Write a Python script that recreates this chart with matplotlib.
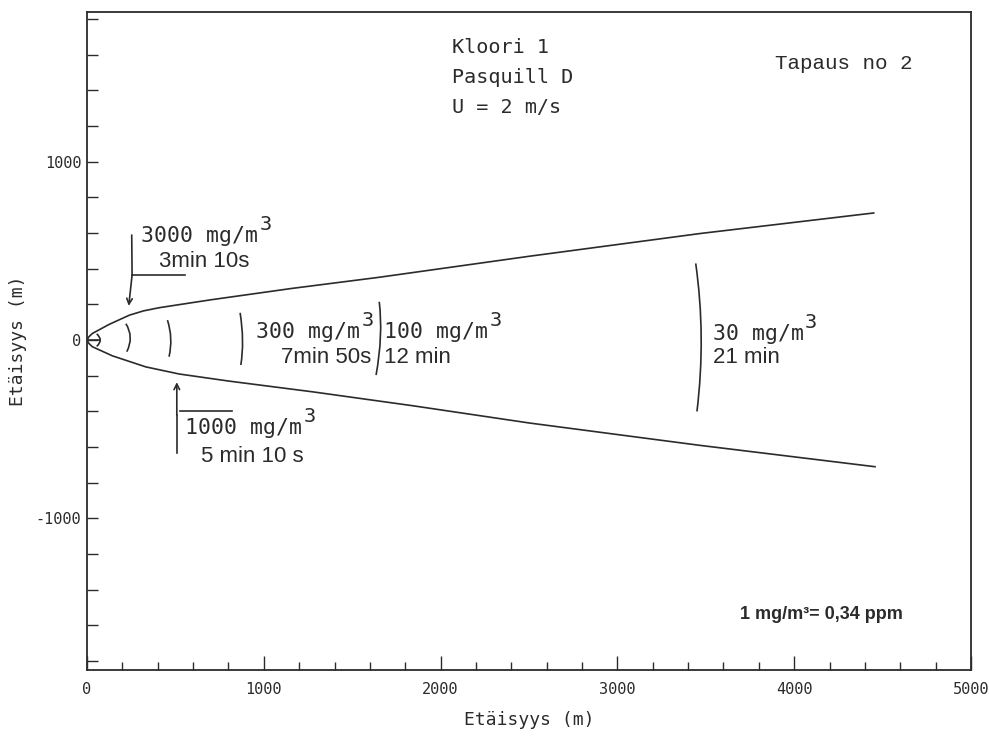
import matplotlib
matplotlib.use("Agg")
import matplotlib.pyplot as plt
from matplotlib.path import Path
from matplotlib.patches import PathPatch
import numpy as np

# ---- data ----
upper_x = [0, 10, 30, 125, 240, 320, 410, 700, 1160, 1650, 2500, 3470, 4450]
upper_y = [0, 18, 37, 88, 140, 164, 182, 226, 290, 352, 470, 598, 713]
lower_x = [0, 10, 30, 143, 332, 521, 804, 1276, 1842, 2503, 3465, 4457]
lower_y = [0, -18, -37, -88, -150, -190, -230, -290, -368, -465, -590, -710]

# iso-concentration arcs: (top, middle, bottom) points
arc_x = [[55, 75, 55], [220, 245, 225], [455, 474, 464], [866, 880, 870],
         [1653, 1660, 1635], [3443, 3474, 3450]]
arc_y = [[35, 0, -35], [92, 15, -65], [112, 10, -93], [153, 0, -140],
         [215, 18, -196], [430, 18, -400]]

conc_labels = ["3000 mg/m", "1000 mg/m", "300 mg/m", "100 mg/m", "30 mg/m"]
time_labels = ["3min 10s", "5 min 10 s", "7min 50s", "12 min", "21 min"]

header_lines = ["Kloori 1", "Pasquill D", "U = 2 m/s"]
case_label = "Tapaus no 2"
conversion = "1 mg/m³= 0,34 ppm"

x_major = [0, 1000, 2000, 3000, 4000, 5000]
y_major = [-1000, 0, 1000]
x_minor = list(range(200, 5000, 200))
y_minor = list(range(-1800, 2000, 200))

MONO = "DejaVu Sans Mono"
SANS = "Liberation Sans"
INK = "#2b2b2b"

fig = plt.figure(figsize=(9.89, 7.36), dpi=100)
ax = fig.add_axes([87 / 989, 1 - 670 / 736, (971 - 87) / 989, (670 - 12) / 736])
ax.set_xlim(0, 5000)
ax.set_ylim(-1850, 1840)

lw = 1.2
ax.plot(upper_x, upper_y, color=INK, lw=lw)
ax.plot(lower_x, lower_y, color=INK, lw=lw)

# arcs as quadratic Bezier curves through the three points
for xs, ys in zip(arc_x, arc_y):
    p0 = np.array([xs[0], ys[0]], float)
    pm = np.array([xs[1], ys[1]], float)
    p2 = np.array([xs[2], ys[2]], float)
    ctrl = 2 * pm - (p0 + p2) / 2
    path = Path([p0, ctrl, p2], [Path.MOVETO, Path.CURVE3, Path.CURVE3])
    ax.add_patch(PathPatch(path, fill=False, color=INK, lw=lw))

# stub at the origin
ax.plot([0, arc_x[0][1]], [0, 0], color=INK, lw=lw)

# 3000 annotation lines
ax.plot([253, 255], [588, 364], color=INK, lw=lw)
ax.plot([255, 557], [364, 364], color=INK, lw=lw)
ax.annotate("", xy=(236, 192), xytext=(255, 364),
            arrowprops=dict(arrowstyle="->", color=INK, lw=lw,
                            shrinkA=0, shrinkB=0, mutation_scale=10))
# 1000 annotation lines
ax.plot([508, 508], [-635, -420], color=INK, lw=lw)
ax.annotate("", xy=(508, -236), xytext=(508, -420),
            arrowprops=dict(arrowstyle="->", color=INK, lw=lw,
                            shrinkA=0, shrinkB=0, mutation_scale=10))
ax.plot([525, 822], [-396, -396], color=INK, lw=lw)

CFS = 15.5
TFS = 16


def conc_text(x, y, s):
    t = ax.text(x, y, s, family=MONO, fontsize=CFS, color=INK,
                ha="left", va="baseline")
    ax.annotate("3", xy=(1.0, 1.0), xycoords=t, xytext=(1, 1),
                textcoords="offset points", family=MONO,
                fontsize=CFS * 0.95, color=INK, ha="left", va="center")
    return t


conc_pos = [(306, 551), (555, -527), (955, 10), (1682, 10), (3539, 0)]
time_pos = [(408, 411, "left"), (643, -682, "left"), (1606, -130, "right"),
            (1682, -130, "left"), (3539, -129, "left")]
for s, (x, y) in zip(conc_labels, conc_pos):
    conc_text(x, y, s)
for s, (x, y, ha) in zip(time_labels, time_pos):
    ax.text(x, y, s, family=SANS, fontsize=TFS, color=INK, ha=ha,
            va="baseline")

for i, s in enumerate(header_lines):
    ax.text(2067, 1608 - i * 168, s, family=MONO, fontsize=14.5, color=INK,
            ha="left", va="baseline")
ax.text(3890, 1518, case_label, family="Liberation Mono", fontsize=15,
        color=INK, ha="left", va="baseline")
ax.text(3692, -1563, conversion, family=SANS, fontsize=13,
        fontweight="bold", color=INK, ha="left", va="baseline")

# axes styling
for side in ["left", "right", "top", "bottom"]:
    ax.spines[side].set_linewidth(1.3)
    ax.spines[side].set_color(INK)

ax.set_xticks(x_major)
ax.set_xticks(x_minor, minor=True)
ax.set_yticks(y_major)
ax.set_yticks(y_minor, minor=True)
ax.set_xticklabels([str(v) for v in x_major])
ax.set_yticklabels([str(v) for v in y_major])
ax.tick_params(axis="both", which="both", direction="in", color=INK,
               width=1.0, top=False, right=False)
ax.tick_params(axis="x", which="major", length=10, pad=9)
ax.tick_params(axis="x", which="minor", length=6)
ax.tick_params(axis="y", which="both", length=8, pad=4)
for lab in ax.get_xticklabels() + ax.get_yticklabels():
    lab.set_family(MONO)
    lab.set_fontsize(11)
    lab.set_color(INK)

ax.set_xlabel("Etäisyys (m)", family=MONO, fontsize=13, color=INK,
              labelpad=10)
ax.set_ylabel("Etäisyys (m)", family=MONO, fontsize=13, color=INK,
              labelpad=6)

fig.savefig("out.png", dpi=100)
